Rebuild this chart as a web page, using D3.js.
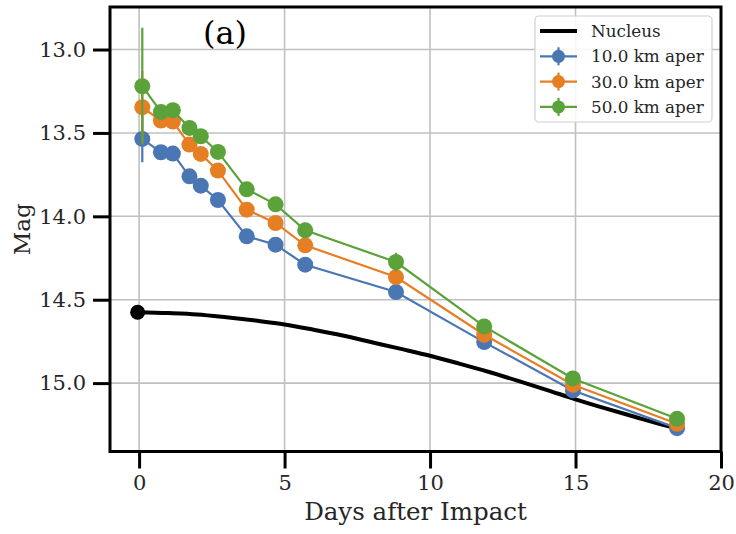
<!DOCTYPE html>
<html>
<head>
<meta charset="utf-8">
<script src="https://cdn.jsdelivr.net/npm/d3@7"></script>
<style>
  html, body { margin: 0; padding: 0; background: #fff; }
  svg { display: block; font-family: "DejaVu Serif", serif; }
</style>
</head>
<body>
<svg id="chart" width="736" height="534"></svg>
<script>
// ---- data ----
const days = [0.11, 0.75, 1.16, 1.73, 2.12, 2.71, 3.70, 4.69, 5.71, 8.83, 11.86, 14.91, 18.49];
const mag10 = [13.536, 13.616, 13.624, 13.76, 13.816, 13.902, 14.12, 14.17, 14.29, 14.454, 14.754, 15.044, 15.27];
const mag30 = [13.346, 13.426, 13.432, 13.57, 13.626, 13.726, 13.96, 14.04, 14.174, 14.364, 14.71, 15.01, 15.244];
const mag50 = [13.22, 13.374, 13.364, 13.47, 13.52, 13.614, 13.838, 13.928, 14.084, 14.274, 14.66, 14.972, 15.214];
const err10 = [0.14, 0.02, 0.02, 0.02, 0.02, 0.02, 0.02, 0.02, 0.02, 0.02, 0.02, 0.02, 0.02];
const err30 = [0.216, 0.02, 0.02, 0.02, 0.02, 0.02, 0.02, 0.02, 0.02, 0.03, 0.02, 0.02, 0.02];
const err50 = [0.35, 0.02, 0.02, 0.02, 0.02, 0.02, 0.02, 0.02, 0.02, 0.055, 0.02, 0.02, 0.02];
const nucleusDays = [-0.05, 1, 2, 3, 4, 5, 6, 7, 8, 9, 10, 11, 12, 13, 14, 15, 16, 17, 18, 18.5];
const nucleusMag = [14.575, 14.580, 14.588, 14.605, 14.625, 14.648, 14.680, 14.715, 14.755, 14.795, 14.836, 14.883, 14.932, 14.985, 15.040, 15.097, 15.150, 15.200, 15.250, 15.27];
const nucleusPoint = [-0.05, 14.575];
const seriesNames = ["10.0 km aper", "30.0 km aper", "50.0 km aper"];
const seriesColors = ["#4a77b4", "#e67f24", "#5ba23a"];
const xTicks = [0, 5, 10, 15, 20];
const yTicks = [13.0, 13.5, 14.0, 14.5, 15.0];
const xDomain = [-1, 20];
const yDomain = [12.745, 15.41];

// ---- layout ----
const svg = d3.select("#chart");
const L = 110, R = 721, T = 7, B = 451.5;
const x = d3.scaleLinear().domain(xDomain).range([L, R]);
const y = d3.scaleLinear().domain(yDomain).range([T, B]);

// grid
const grid = svg.append("g");
grid.selectAll(".gx").data(xTicks).join("line")
  .attr("x1", d => x(d)).attr("x2", d => x(d)).attr("y1", T).attr("y2", B)
  .attr("stroke", "#c0c0c0").attr("stroke-width", 1.6);
grid.selectAll(".gy").data(yTicks).join("line")
  .attr("y1", d => y(d)).attr("y2", d => y(d)).attr("x1", L).attr("x2", R)
  .attr("stroke", "#c0c0c0").attr("stroke-width", 1.6);

// axes
const xAxis = d3.axisBottom(x).tickValues(xTicks).tickFormat(d3.format("d")).tickSize(17).tickPadding(7);
const yAxis = d3.axisLeft(y).tickValues(yTicks).tickFormat(d3.format(".1f")).tickSize(17).tickPadding(7);
const gx = svg.append("g").attr("transform", `translate(0,${B})`).call(xAxis);
const gy = svg.append("g").attr("transform", `translate(${L},0)`).call(yAxis);
[gx, gy].forEach(g => {
  g.select(".domain").remove();
  g.selectAll(".tick line").attr("stroke", "#000").attr("stroke-width", 3);
  g.selectAll(".tick text").attr("fill", "#262626").style("font-family", "DejaVu Serif").style("font-size", "21px");
});

// plot content clip
svg.append("clipPath").attr("id", "clip").append("rect")
  .attr("x", L).attr("y", T).attr("width", R - L).attr("height", B - T);
const plot = svg.append("g").attr("clip-path", "url(#clip)");

// nucleus
const nuc = nucleusDays.map((d, i) => [d, nucleusMag[i]]);
plot.append("path").datum(nuc)
  .attr("fill", "none").attr("stroke", "#000").attr("stroke-width", 4)
  .attr("d", d3.line().x(d => x(d[0])).y(d => y(d[1])).curve(d3.curveMonotoneX));
plot.append("circle").attr("cx", x(nucleusPoint[0])).attr("cy", y(nucleusPoint[1]))
  .attr("r", 7.5).attr("fill", "#000");

// series
const allMags = [mag10, mag30, mag50];
const allErrs = [err10, err30, err50];
allMags.forEach((mags, si) => {
  const col = seriesColors[si];
  const pts = days.map((d, i) => ({ d, m: mags[i], e: allErrs[si][i] }));
  const g = plot.append("g");
  g.append("path").datum(pts).attr("fill", "none").attr("stroke", col).attr("stroke-width", 2.2)
    .attr("d", d3.line().x(p => x(p.d)).y(p => y(p.m)));
  g.selectAll(".eb").data(pts).join("line")
    .attr("x1", p => x(p.d)).attr("x2", p => x(p.d))
    .attr("y1", p => y(p.m - p.e)).attr("y2", p => y(p.m + p.e))
    .attr("stroke", col).attr("stroke-width", 2.2);
  g.selectAll(".pt").data(pts).join("circle")
    .attr("cx", p => x(p.d)).attr("cy", p => y(p.m)).attr("r", 8).attr("fill", col);
});

// spines
svg.append("rect").attr("x", L).attr("y", T).attr("width", R - L).attr("height", B - T)
  .attr("fill", "none").attr("stroke", "#000").attr("stroke-width", 3);

// panel label
svg.append("text").attr("x", 225).attr("y", 44).attr("text-anchor", "middle")
  .style("font-size", "32px").attr("fill", "#000").text("(a)");

// axis labels
svg.append("text").attr("x", (L + R) / 2).attr("y", 520).attr("text-anchor", "middle")
  .style("font-size", "24.5px").attr("fill", "#262626").text("Days after Impact");
svg.append("text").attr("transform", `translate(30,${(T + B) / 2}) rotate(-90)`).attr("text-anchor", "middle")
  .style("font-size", "23px").attr("fill", "#262626").text("Mag");

// legend
const lg = svg.append("g");
lg.append("rect").attr("x", 535).attr("y", 16).attr("width", 177).attr("height", 106).attr("rx", 4)
  .attr("fill", "#fff").attr("fill-opacity", 0.85).attr("stroke", "#d0d0d0").attr("stroke-width", 1.2);
const rows = [{ name: "Nucleus", color: "#000", nucleus: true }]
  .concat(seriesNames.map((n, i) => ({ name: n, color: seriesColors[i] })));
rows.forEach((r, i) => {
  const cy = 31 + i * 25.3;
  const gr = lg.append("g");
  gr.append("line").attr("x1", 540).attr("x2", 577).attr("y1", cy).attr("y2", cy)
    .attr("stroke", r.color).attr("stroke-width", r.nucleus ? 4 : 2.2);
  if (!r.nucleus) {
    gr.append("line").attr("x1", 558.5).attr("x2", 558.5).attr("y1", cy - 9).attr("y2", cy + 9)
      .attr("stroke", r.color).attr("stroke-width", 2.2);
    gr.append("circle").attr("cx", 558.5).attr("cy", cy).attr("r", 6.5).attr("fill", r.color);
  }
  gr.append("text").attr("x", 591).attr("y", cy + 6).style("font-size", "16.8px")
    .attr("fill", "#262626").text(r.name);
});
</script>
</body>
</html>
